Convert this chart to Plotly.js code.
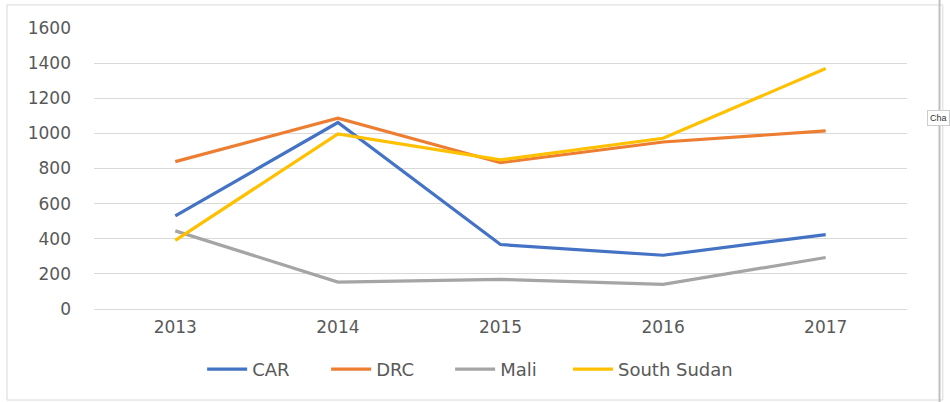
<!DOCTYPE html>
<html>
<head>
<meta charset="utf-8">
<script src="https://cdn.plot.ly/plotly-3.0.1.min.js"></script>
<style>html,body{margin:0;padding:0;background:#fff;}#chart{width:950px;height:402px;}</style>
</head>
<body>
<div id="chart"></div>
<script>
const years = ["2013", "2014", "2015", "2016", "2017"];
const car = [530, 1062, 367, 306, 424];
const drc = [839, 1087, 833, 951, 1014];
const mali = [445, 153, 169, 140, 293];
const southSudan = [391, 997, 849, 972, 1369];
const seriesNames = ["CAR", "DRC", "Mali", "South Sudan"];
const seriesColors = ["#4472C4", "#ED7D31", "#A5A5A5", "#FFC000"];
const seriesValues = [car, drc, mali, southSudan];

const traces = seriesValues.map((vals, i) => ({
  type: "scatter",
  mode: "lines",
  x: years,
  y: vals,
  name: seriesNames[i],
  legend: i === 3 ? "legend2" : "legend",
  line: {color: seriesColors[i], width: 3.2}
}));

const legendCommon = {
  orientation: "h",
  xanchor: "left",
  y: -0.215, yanchor: "middle",
  font: {size: 18, color: "#595959"},
  itemwidth: 40,
  tracegroupgap: 0
};

const layout = {
  width: 950,
  height: 402,
  margin: {l: 94, r: 43, t: 28, b: 93},
  paper_bgcolor: "#ffffff",
  plot_bgcolor: "#ffffff",
  font: {family: "'DejaVu Sans', sans-serif", size: 17, color: "#595959"},
  showlegend: true,
  legend: Object.assign({}, legendCommon, {x: 0.133, entrywidth: 69, entrywidthmode: "pixels"}),
  legend2: Object.assign({}, legendCommon, {x: 0.583}),
  xaxis: {
    type: "category",
    range: [-0.5, 4.5],
    showgrid: false,
    showline: false,
    ticks: "",
    zeroline: false,
    tickfont: {size: 17, color: "#595959"},
    ticklabelstandoff: 6
  },
  yaxis: {
    range: [0, 1600],
    dtick: 200,
    showgrid: true,
    gridcolor: "#d9d9d9",
    gridwidth: 1,
    zeroline: true,
    zerolinecolor: "#d9d9d9",
    zerolinewidth: 1,
    showline: false,
    ticks: "",
    ticklabelstandoff: 22,
    tickfont: {size: 17, color: "#595959"}
  },
  shapes: [
    {type: "rect", xref: "paper", yref: "paper", x0: -0.107, x1: 1.044, y0: -0.324, y1: 1.082,
     line: {color: "#d9d9d9", width: 1}, fillcolor: "rgba(0,0,0,0)", layer: "below"},
    {type: "line", xref: "paper", yref: "paper", x0: 1.040, x1: 1.040, y0: -0.335, y1: 1.10,
     line: {color: "#bfbfbf", width: 2}}
  ],
  annotations: [
    {xref: "paper", yref: "paper", x: 1.0529, y: 0.68, xanchor: "right", yanchor: "middle",
     text: "Cha", showarrow: false, font: {size: 9, color: "#333", family: "Liberation Sans, sans-serif"},
     bgcolor: "#ffffff", bordercolor: "#cccccc", borderwidth: 1, borderpad: 2}
  ]
};

Plotly.newPlot("chart", traces, layout, {displayModeBar: false, staticPlot: true});
</script>
</body>
</html>
